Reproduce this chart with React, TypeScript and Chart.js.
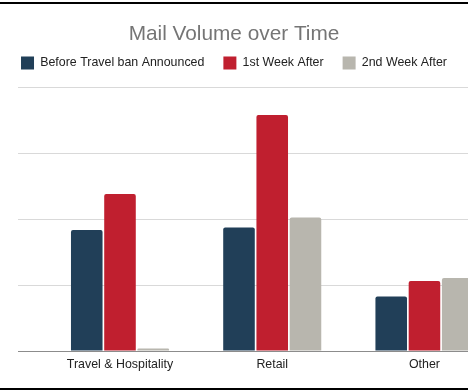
import React, { useEffect, useRef } from "react";
import { Chart, registerables } from "chart.js";

Chart.register(...registerables);

const TITLE = "Mail Volume over Time";
const categories = ["Travel & Hospitality", "Retail", "Other"];
const seriesNames = ["Before Travel ban Announced", "1st Week After", "2nd Week After"];
const beforeBan = [1.84, 1.88, 0.83];
const week1After = [2.39, 3.59, 1.065];
const week2After = [0.04, 2.03, 1.11];
const seriesColors = ["#213f58", "#c01f2f", "#b8b6ae"];
const yMax = 4;

const FONT = "'Liberation Sans', Arial, sans-serif";

const legendMargin = {
  id: "legendMargin",
  beforeLayout(chart: any) {
    const lg = chart.legend;
    if (lg && !lg._patched) {
      const fit = lg.fit;
      lg.fit = function () {
        fit.call(this);
        this.height += 8.5;
      };
      lg._patched = true;
    }
  },
};

export default function App() {
  const ref = useRef<HTMLCanvasElement>(null);

  useEffect(() => {
    if (!ref.current) return;
    const series = [beforeBan, week1After, week2After];
    const chart = new Chart(ref.current, {
      type: "bar",
      data: {
        datasets: series.map((vals, s) => ({
          label: seriesNames[s],
          data: vals.map((v, i) => ({ x: i, y: v })),
          backgroundColor: seriesColors[s],
          borderWidth: 0,
          borderRadius: { topLeft: 2, topRight: 2, bottomLeft: 0, bottomRight: 0 },
          borderSkipped: false,
          barPercentage: 0.95,
          categoryPercentage: 0.655,
        })),
      },
      options: {
        animation: false,
        responsive: true,
        maintainAspectRatio: false,
        layout: { padding: { left: 0, right: 0, top: 0, bottom: 13 } },
        plugins: {
          title: {
            display: true,
            text: TITLE,
            color: "#757575",
            font: { family: FONT, size: 20.8, weight: "normal", lineHeight: 1.2 },
            padding: { top: 21.5, bottom: -9 },
          },
          legend: {
            display: true,
            position: "top",
            labels: {
              boxWidth: 13,
              boxHeight: 13,
              padding: 19,
              color: "#222222",
              font: { family: FONT, size: 12.4 },
            },
          },
          tooltip: { enabled: false },
        },
        scales: {
          x: {
            type: "linear",
            min: -0.67,
            max: 2.286,
            offset: false,
            grid: { display: true, color: "rgba(0,0,0,0)", drawTicks: false, offset: false },
            border: { display: true, color: "#8c8c8c", width: 1 },
            ticks: {
              stepSize: 1,
              includeBounds: false,
              autoSkip: false,
              maxRotation: 0,
              padding: 6,
              color: "#222222",
              font: { family: FONT, size: 12.4 },
              callback: (v: any) => categories[v as number] ?? "",
            },
          },
          y: {
            type: "linear",
            min: 0,
            max: yMax,
            ticks: { display: false, stepSize: 1 },
            grid: { color: "#d9d9d9", drawTicks: false },
            border: { display: false },
            afterFit: (scale: any) => {
              scale.width = 18;
            },
          },
        },
      },
      plugins: [legendMargin],
    } as any);
    return () => chart.destroy();
  }, []);

  return (
    <div style={{ position: "absolute", left: 0, top: 0, width: 468, height: 391, background: "#fff" }}>
      <canvas ref={ref} />
      <div style={{ position: "absolute", left: 0, top: 2, width: 468, height: 2, background: "#000" }} />
      <div style={{ position: "absolute", left: 0, top: 388, width: 468, height: 2, background: "#000" }} />
    </div>
  );
}
